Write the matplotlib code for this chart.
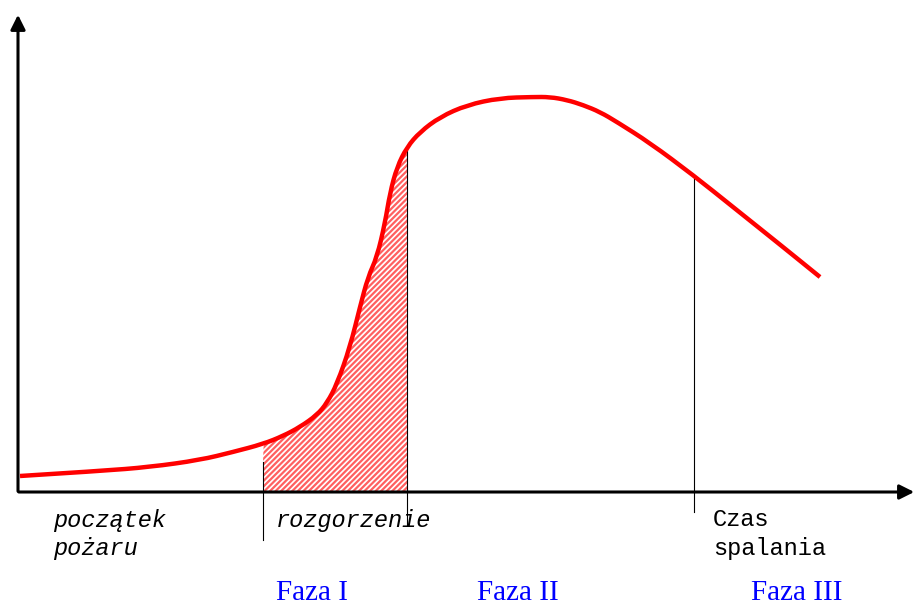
import matplotlib.pyplot as plt
from matplotlib.path import Path
from matplotlib.patches import PathPatch
import numpy as np

# curve (x = time, y = temperature, in picture units)
czas = [20, 100, 150, 200, 233, 263, 283, 300, 317, 327, 337, 350, 360, 368, 377,
        385, 390, 397, 407, 420, 440, 467, 500, 533, 550, 567, 583, 600, 617, 650,
        693, 733, 783, 820]
temp = [476, 471, 467, 460, 452, 444, 436, 427, 415, 403, 384, 347, 307, 277, 257,
        223, 193, 167, 147, 132, 117, 105, 98, 97, 97, 100, 105, 112, 122, 143,
        175, 207, 247, 277]
temp = [608 - t for t in temp]

faza_start = 263
faza_flash = 407
faza_decay = 694
os_y = 608 - 492

fig = plt.figure(figsize=(9.17, 6.08), dpi=100)
ax = fig.add_axes([0, 0, 1, 1])
ax.set_xlim(0, 917)
ax.set_ylim(0, 608)
ax.axis('off')

# osie ze strzalkami
ax.annotate('', xy=(917, os_y), xytext=(16, os_y),
            arrowprops=dict(arrowstyle='-|>', color='black', lw=2.2, mutation_scale=22))
ax.annotate('', xy=(18, 596), xytext=(18, os_y - 2),
            arrowprops=dict(arrowstyle='-|>', color='black', lw=2.2, mutation_scale=22))

# zakreskowany obszar rozgorzenia
xs = np.linspace(faza_start, faza_flash, 200)
ys = np.interp(xs, czas, temp)
ys[0] = 608 - 462
plt.rcParams['hatch.linewidth'] = 1.6
ax.fill_between(xs, os_y, ys, facecolor='white', edgecolor='#ff6060', hatch='//////', lw=0)

# krzywa rysowana gladko (krzywe Beziera przez srodki odcinkow)
pts = np.column_stack([czas, temp])
verts = [pts[0]]
codes = [Path.MOVETO]
for i in range(1, len(pts) - 1):
    verts += [pts[i], (pts[i] + pts[i + 1]) / 2]
    codes += [Path.CURVE3, Path.CURVE3]
verts.append(pts[-1])
codes.append(Path.LINETO)
ax.add_patch(PathPatch(Path(verts, codes), facecolor='none', edgecolor='red',
                       lw=3.2, capstyle='butt', zorder=5))

# pionowe linie faz
ax.plot([faza_start, faza_start], [608 - 462, 608 - 540], color='black', lw=0.8)
ax.plot([faza_flash, faza_flash], [608 - 150, 608 - 525], color='black', lw=0.8)
ax.plot([faza_decay, faza_decay], [608 - 175, 608 - 512], color='black', lw=0.8)

mono = 'Liberation Mono'
ax.text(53, 608 - 520, 'początek', family=mono, style='italic', fontsize=17, va='center')
ax.text(53, 608 - 548, 'pożaru', family=mono, style='italic', fontsize=17, va='center')
ax.text(276, 608 - 520, 'rozgorzenie', family=mono, style='italic', fontsize=17, va='center')
ax.text(713, 608 - 520, 'Czas', family=mono, fontsize=17, va='center')
ax.text(713, 608 - 548, 'spalania', family=mono, fontsize=17, va='center')

for label, x in [('Faza I', 276), ('Faza II', 477), ('Faza III', 751)]:
    ax.text(x, 608 - 600, label, family='Liberation Serif', fontsize=21,
            color='blue', va='baseline')

fig.savefig('out.png', dpi=100)
